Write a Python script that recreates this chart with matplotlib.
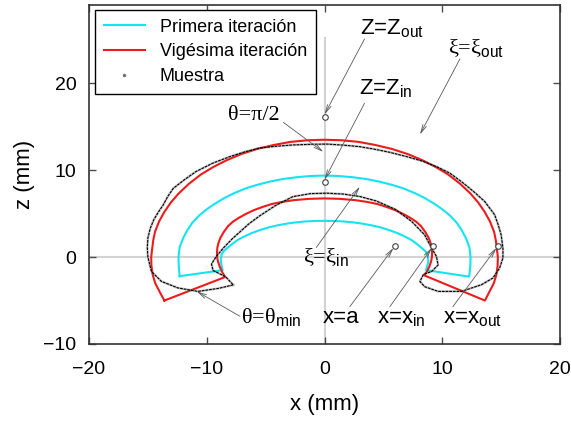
import matplotlib.pyplot as plt
from matplotlib.lines import Line2D

plt.rcParams['font.family'] = ['Liberation Sans', 'DejaVu Sans']
plt.rcParams['mathtext.fontset'] = 'custom'
plt.rcParams['mathtext.rm'] = 'Liberation Sans'
plt.rcParams['mathtext.it'] = 'Liberation Sans:italic'

# Primera iteración (contorno cerrado: arco exterior, extremo, arco interior)
primera_x = [-12.3, -12.38, -12.4, -12.3, -12.0, -11.65, -11.2, -10.65, -10.0, -9.3,
             -8.5, -7.65, -6.7, -5.7, -4.6, -3.5, -2.3, -1.15, 0.0,
             1.15, 2.3, 3.5, 4.6, 5.7, 6.7, 7.65, 8.5, 9.3, 10.0,
             10.65, 11.2, 11.65, 12.0, 12.3, 12.4, 12.38, 12.28,
             8.62, 8.82, 8.75, 8.55, 8.25, 7.85, 7.4, 6.85, 6.2, 5.5,
             4.8, 4.0, 3.2, 2.4, 1.6, 0.8, 0.0,
             -0.8, -1.6, -2.4, -3.2, -4.0, -4.8, -5.5, -6.2, -6.85,
             -7.4, -7.85, -8.25, -8.55, -8.75, -8.82, -8.65, -12.3]
primera_z = [-2.2, -1.1, 0.0, 1.15, 2.2, 3.1, 4.0, 4.78, 5.5, 6.15,
             6.8, 7.37, 7.9, 8.32, 8.7, 8.99, 9.2, 9.33, 9.38,
             9.33, 9.2, 8.99, 8.7, 8.32, 7.9, 7.37, 6.8, 6.15, 5.5,
             4.78, 4.0, 3.1, 2.2, 1.15, 0.0, -1.1, -2.25,
             -1.5, -0.5, 0.3, 0.7, 1.05, 1.5, 1.95, 2.35, 2.75, 3.1,
             3.4, 3.65, 3.85, 4.0, 4.1, 4.15, 4.17,
             4.15, 4.1, 4.0, 3.85, 3.65, 3.4, 3.1, 2.75, 2.35,
             1.95, 1.5, 1.05, 0.7, 0.3, -0.5, -1.5, -2.2]

# Vigésima iteración
vigesima_x = [-13.6, -14.0, -14.38, -14.6, -14.7, -14.72, -14.65, -14.55, -14.4, -14.05,
              -13.6, -13.05, -12.4, -11.5, -10.5, -9.45, -8.3, -7.05, -5.7, -4.3,
              -2.9, -1.45, 0.0,
              1.45, 2.9, 4.3, 5.7, 7.05, 8.3, 9.45, 10.5, 11.5, 12.4,
              13.05, 13.6, 14.05, 14.4, 14.55, 14.65, 14.72, 14.7, 14.6, 14.38, 14.0, 13.62,
              8.46, 8.7, 8.9, 9.05, 9.12, 9.13, 9.1, 9.0, 8.85, 8.55,
              8.2, 7.8, 7.3, 6.7, 6.0, 5.3, 4.5, 3.6, 2.6, 1.3, 0.0,
              -1.3, -2.6, -3.6, -4.5, -5.3, -6.0, -6.7, -7.3, -7.8, -8.2,
              -8.55, -8.85, -9.0, -9.1, -9.13, -9.12, -9.05, -8.9, -8.7, -8.45, -13.6]
vigesima_z = [-5.0, -4.0, -3.0, -2.0, -1.0, 0.0, 0.8, 1.9, 2.9, 4.1,
              5.2, 6.28, 7.3, 8.45, 9.5, 10.36, 11.15, 11.86, 12.45, 12.9,
              13.25, 13.44, 13.5,
              13.44, 13.25, 12.9, 12.45, 11.86, 11.15, 10.36, 9.5, 8.45, 7.3,
              6.28, 5.2, 4.1, 2.9, 1.9, 0.8, 0.0, -1.0, -2.0, -3.0, -4.0, -5.0,
              -2.1, -1.65, -1.1, -0.5, 0.0, 0.55, 1.1, 1.65, 2.2, 2.9,
              3.55, 4.05, 4.5, 4.95, 5.4, 5.75, 6.1, 6.35, 6.55, 6.7, 6.75,
              6.7, 6.55, 6.35, 6.1, 5.75, 5.4, 4.95, 4.5, 4.05, 3.55,
              2.9, 2.2, 1.65, 1.1, 0.55, 0.0, -0.5, -1.1, -1.7, -2.3, -5.0]

# Muestra (contorno medido)
muestra_x = [-7.75, -9.0, -10.75, -12.45, -13.85, -14.7, -15.0, -15.05, -15.0, -14.8,
             -14.5, -14.1, -13.7, -13.3, -12.85, -11.9, -10.9, -9.5, -8.05, -6.8,
             -5.5, -4.1, -2.7, -1.2, 0.2, 1.6, 3.0, 4.3, 5.55, 7.0,
             8.4, 9.6, 10.65, 11.7, 12.65, 13.6, 14.45, 14.75, 15.0, 15.15,
             15.15, 14.87, 14.3, 13.33, 11.63, 9.65, 8.5, 8.1, 8.4, 9.1,
             9.65, 9.5, 8.95, 8.5, 7.4, 6.0, 4.4, 3.0, 1.6, 0.2,
             -1.2, -2.7, -4.2, -5.5, -6.4, -7.1, -7.8, -8.6, -9.2, -9.6,
             -9.46, -8.41, -7.75]
muestra_z = [-3.2, -3.6, -3.95, -3.55, -2.8, -1.65, 0.0, 1.1, 2.2, 3.3,
             4.3, 5.2, 6.0, 7.0, 7.9, 8.9, 9.85, 10.8, 11.55, 12.1,
             12.55, 12.75, 12.9, 12.97, 13.0, 12.88, 12.7, 12.4, 12.05, 11.55,
             11.0, 10.35, 9.65, 8.6, 7.55, 6.4, 4.86, 3.7, 2.56, 1.0,
             -0.1, -1.26, -2.41, -3.18, -3.95, -3.95, -3.4, -2.8, -2.0, -1.65,
             -0.9, 0.07, 1.4, 2.56, 4.1, 5.5, 6.45, 6.97, 7.25, 7.35,
             7.3, 6.95, 5.9, 4.75, 3.85, 3.0, 2.15, 1.03, 0.05, -0.8,
             -1.55, -2.25, -3.2]

# puntos marcados: z_out, z_in, a, x_in, x_out
puntos_x = [0.0, 0.0, 5.97, 9.23, 14.75]
puntos_z = [16.16, 8.69, 1.22, 1.22, 1.22]

fig = plt.figure(figsize=(5.71, 4.21), dpi=100)
ax = fig.add_axes([0.1559, 0.1829, 0.8249, 0.8052])

ax.axhline(0, color='#d3d3d3', lw=1.5, zorder=0)
ax.axvline(0, ymax=0.903, color='#d3d3d3', lw=1.5, zorder=0)

cian, = ax.plot(primera_x, primera_z, color='#14e4f0', lw=1.5, label='Primera iteración')
rojo, = ax.plot(vigesima_x, vigesima_z, color='#ee1b1b', lw=1.5, label='Vigésima iteración')
ax.plot(muestra_x, muestra_z, color='0.4', lw=1.8, alpha=0.35)
ax.plot(muestra_x, muestra_z, color='k', lw=0.8, ls=(0, (2.5, 0.8)))
ax.plot(puntos_x, puntos_z, ls='none', marker='o', ms=4, mfc='white', mec='0.25', mew=0.8, zorder=5)

flecha = dict(arrowstyle='->,head_length=0.6,head_width=0.14', color='0.35', lw=0.6,
              shrinkA=0, shrinkB=0)

def nota(texto, txy, desde, hasta, serif=False, size=16):
    fam = ['Liberation Serif', 'DejaVu Serif'] if serif else ['Liberation Sans', 'DejaVu Sans']
    ax.text(txy[0], txy[1], texto, ha='center', va='center', fontsize=size, family=fam)
    ax.annotate('', xy=hasta, xytext=desde, arrowprops=flecha)

nota('Z=Z$_{\\mathrm{out}}$', (5.7, 26.3), (3.4, 25.1), (0.0, 16.4))
nota('Z=Z$_{\\mathrm{in}}$', (5.2, 19.4), (3.4, 17.7), (0.0, 8.9))
nota('ξ=ξ$_{\\mathrm{out}}$', (12.9, 24.0), (11.5, 22.8), (8.1, 14.1), serif=True)
nota('θ=π/2', (-6.0, 16.3), (-3.5, 15.5), (-0.1, 12.1), serif=True)
nota('ξ=ξ$_{\\mathrm{in}}$', (0.1, -0.1), (-0.7, 1.1), (3.0, 8.1), serif=True)
nota('θ=θ$_{\\mathrm{min}}$', (-4.5, -7.0), (-7.2, -6.8), (-10.85, -3.95), serif=True)
nota('x=a', (1.4, -7.0), (2.15, -5.7), (5.85, 1.05))
nota('x=x$_{\\mathrm{in}}$', (6.5, -7.1), (5.55, -5.7), (9.1, 1.05))
nota('x=x$_{\\mathrm{out}}$', (12.6, -7.1), (10.9, -5.7), (14.6, 1.05))

muestra_h = Line2D([], [], ls='none', marker='.', ms=3, color='0.45', label='Muestra')
leg = ax.legend(handles=[cian, rojo, muestra_h], loc='upper left', bbox_to_anchor=(0.012, 0.986),
                borderaxespad=0, fontsize=13, fancybox=False, edgecolor='k', framealpha=1,
                handlelength=2.3, handletextpad=0.8, labelspacing=0.42, borderpad=0.5)
leg.get_frame().set_linewidth(1.0)

ax.set_xlim(-20, 20)
ax.set_ylim(-10, 29)
ax.set_xticks([-20, -10, 0, 10, 20])
ax.set_yticks([-10, 0, 10, 20])
ax.tick_params(direction='in', top=True, right=True, length=5, width=1, color='0.3',
               labelsize=14)
ax.tick_params(axis='x', pad=12)
ax.tick_params(axis='y', pad=9)
for s in ax.spines.values():
    s.set_linewidth(1.2)
    s.set_color('0.2')
ax.set_xlabel('x (mm)', fontsize=16, labelpad=12)
ax.set_ylabel('z (mm)', fontsize=16, labelpad=6)

fig.savefig('out.png', dpi=100)
